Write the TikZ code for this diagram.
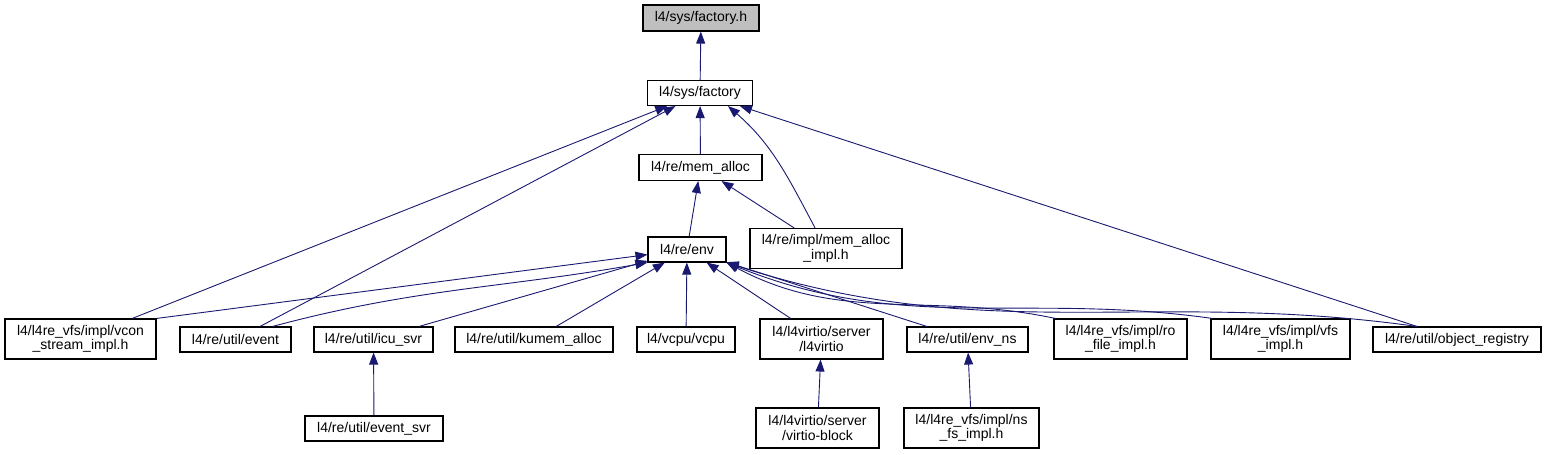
\documentclass[tikz,border=0pt]{standalone}
\usepackage{fontspec}
\setmainfont{Liberation Sans}
\usepackage{tikz}
\usetikzlibrary{arrows.meta, positioning}
\definecolor{edgeblue}{HTML}{191970}

\begin{document}
\begin{tikzpicture}[x=1pt, y=1pt]
        % Styles
        \tikzstyle{file} = [draw, rectangle, line width=1.1pt, fill=white, inner sep=0pt, minimum height=25pt, align=center, font=\fontsize{14}{14.5}\selectfont]
        \tikzstyle{twoline} = [minimum height=40pt]
        \tikzstyle{dep} = [-{Triangle[length=12pt, width=9pt]}, color=edgeblue, line width=0.9pt]

        \useasboundingbox (0,0) rectangle (1547,-455);

        % Nodes
        \node [file, fill=gray!50, minimum width=116pt, minimum height=26pt] (fhdr) at (701,-18) {l4/sys/factory.h};
        \node [file, minimum width=105pt] (factory) at (700,-93) {l4/sys/factory};
        \node [file, minimum width=123pt, minimum height=26pt] (memalloc) at (700.5,-167.5) {l4/re/mem\_alloc};
        \node [file, minimum width=78pt] (env) at (687,-249.5) {l4/re/env};
        \node [file, twoline, minimum width=152pt] (memimpl) at (826,-248.5) {l4/re/impl/mem\_alloc\\\_impl.h};

        \node [file, twoline, minimum width=151pt] (vcon) at (80.5,-339) {l4/l4re\_vfs/impl/vcon\\\_stream\_impl.h};
        \node [file, minimum width=111pt] (event) at (235.5,-339.5) {l4/re/util/event};
        \node [file, minimum width=119pt] (icusvr) at (373.5,-339.5) {l4/re/util/icu\_svr};
        \node [file, minimum width=158pt] (kumem) at (534,-339.5) {l4/re/util/kumem\_alloc};
        \node [file, minimum width=98pt] (vcpu) at (686,-339.5) {l4/vcpu/vcpu};
        \node [file, twoline, minimum width=123pt] (virtio) at (821.5,-339) {l4/l4virtio/server\\/l4virtio};
        \node [file, minimum width=121pt] (envns) at (967.5,-339.5) {l4/re/util/env\_ns};
        \node [file, twoline, minimum width=133pt] (rofile) at (1120.5,-339) {l4/l4re\_vfs/impl/ro\\\_file\_impl.h};
        \node [file, twoline, minimum width=139pt] (vfsimpl) at (1280.5,-339) {l4/l4re\_vfs/impl/vfs\\\_impl.h};
        \node [file, minimum width=168pt] (objreg) at (1457,-339.5) {l4/re/util/object\_registry};

        \node [file, minimum width=138pt] (eventsvr) at (374,-428.5) {l4/re/util/event\_svr};
        \node [file, twoline, minimum width=123pt] (vblock) at (817.5,-428) {l4/l4virtio/server\\/virtio-block};
        \node [file, twoline, minimum width=135pt] (nsfs) at (971.5,-428) {l4/l4re\_vfs/impl/ns\\\_fs\_impl.h};

        % Arrows
        \draw [dep] (factory) -- (fhdr);
        \draw [dep] (memalloc) -- (factory);
        \draw [dep] (memimpl) to[out=118, in=-41] (factory.-25);
        \draw [dep] (vcon) -- (factory);
        \draw [dep] (event) -- (factory);
        \draw [dep] (objreg) -- (factory);
        \draw [dep] (memimpl) -- (memalloc);
        \draw [dep] (env) -- (memalloc);

        \draw [dep] (vcon.north east) -- (env);
        \draw [dep] ([xshift=-19pt]event.north east) to[out=15, in=190] (env.south west);
        \draw [dep] (icusvr) -- (env);
        \draw [dep] (kumem) -- (env);
        \draw [dep] (vcpu) -- (env);
        \draw [dep] (virtio) -- (env);
        \draw [dep] (envns) -- (env);
        \draw [dep] ([xshift=2pt]rofile.north west) to[out=168, in=-28] (env.south east);
        \draw [dep] ([xshift=2pt]vfsimpl.north west) to[out=172, in=-22] (env.south east);
        \draw [dep] ([xshift=-40pt]objreg.north) to[out=172, in=-18] (env.south east);

        \draw [dep] (eventsvr) -- (icusvr);
        \draw [dep] (vblock) -- (virtio);
        \draw [dep] (nsfs) -- (envns);
    \end{tikzpicture}
\end{document}
